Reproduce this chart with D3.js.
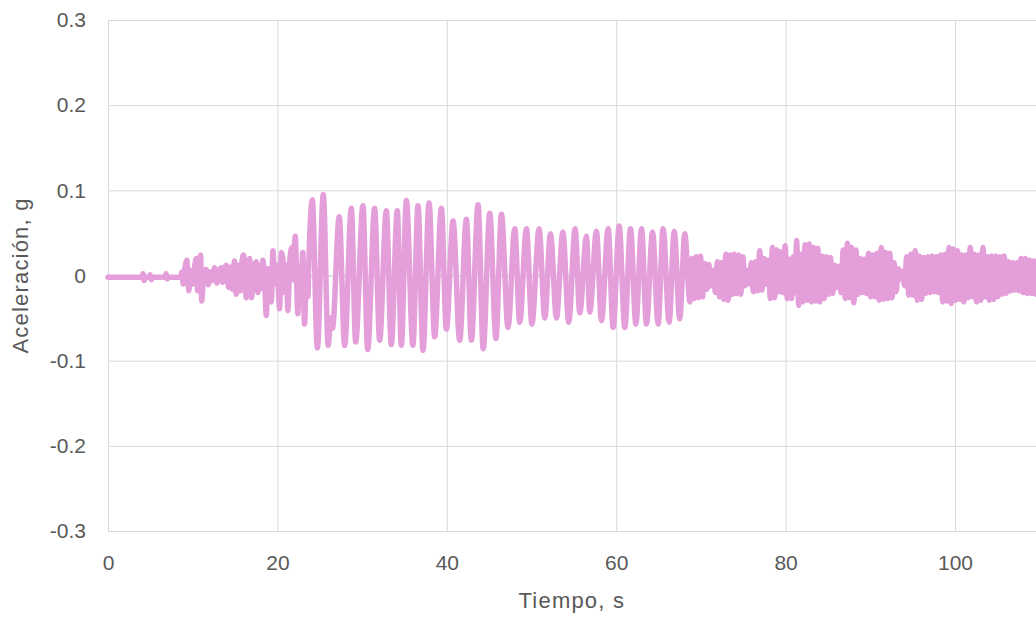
<!DOCTYPE html>
<html><head><meta charset="utf-8">
<script src="https://cdn.jsdelivr.net/npm/d3@7"></script>
<style>body{margin:0;background:#fff}svg{display:block}</style>
</head><body>
<svg id="chart" width="1036" height="617"></svg>
<script>
// ---- data ----
const xTicks = [0, 20, 40, 60, 80, 100];
const yTicks = [-0.3, -0.2, -0.1, 0, 0.1, 0.2, 0.3];
const yTickLabels = ["-0.3", "-0.2", "-0.1", "0", "0.1", "0.2", "0.3"];
const xTitle = "Tiempo, s";
const yTitle = "Aceleración, g";

// [time (s), acceleration (g)] turning points of the record
const preEvent = [[0,-0.002],[4.0,-0.002],[4.12,0.002],[4.27,-0.006],[4.42,-0.002],[4.85,-0.002],[4.98,0.001],[5.12,-0.005],[5.27,-0.002],[6.72,-0.002],[6.86,0.002],[7.0,-0.004],[7.15,-0.002],[8.6,-0.002]];

const onset = [[8.72,0.004],[8.88,-0.010],[9.08,0.008],[9.31,0.018],[9.55,-0.018],[9.78,0.006],[9.98,-0.010],[10.2,0.008],[10.42,0.020],[10.58,-0.018],[10.76,0.012],[10.93,0.024],[11.06,-0.030],[11.3,0.004],[11.6,0.007],[11.82,-0.011],[12.05,0.004],[12.3,-0.006],[12.58,0.009],[12.86,-0.009],[13.1,0.004],[13.37,0.009],[13.52,-0.008],[13.75,0.006],[13.96,0.012],[14.24,-0.014],[14.5,0.010],[14.7,-0.016],[14.94,0.017],[15.14,-0.022],[15.4,0.012],[15.6,-0.018],[15.8,0.014],[16.0,0.024],[16.32,-0.026],[16.5,0.012],[16.72,0.020],[16.95,-0.026],[17.2,0.010],[17.5,0.016],[17.7,-0.020],[17.95,0.012],[18.1,-0.015],[18.29,0.018],[18.5,-0.010],[18.69,-0.047],[18.9,0.008],[19.1,-0.012],[19.28,-0.031],[19.47,0.029],[19.7,-0.010],[19.9,0.012],[20.1,-0.015],[20.26,-0.039],[20.46,0.027],[20.65,0.020],[20.85,-0.020],[21.05,0.012],[21.24,-0.041],[21.45,0.015],[21.7,0.033],[21.85,-0.005],[22.1,0.046],[22.42,-0.045],[22.6,0.010],[22.8,-0.015],[23.0,0.027],[23.2,-0.057],[23.45,0.010],[23.6,-0.025],[23.72,0.018]];

const strongMotion = [[24.12,0.089],[24.72,-0.085],[25.42,0.095],[26.0,-0.082],[26.3,-0.050],[26.5,-0.062],[27.3,0.069],[27.94,-0.082],[28.73,0.079],[29.24,-0.078],[30.1,0.082],[30.66,-0.087],[31.48,0.079],[32.07,-0.076],[32.86,0.076],[33.45,-0.081],[34.15,0.076],[34.63,-0.082],[35.23,0.088],[36.0,-0.082],[36.6,0.082],[37.19,-0.088],[37.9,0.085],[38.57,-0.072],[39.36,0.079],[39.95,-0.063],[40.74,0.064],[41.52,-0.076],[42.31,0.066],[42.9,-0.076],[43.69,0.083],[44.3,-0.086],[45.07,0.073],[45.8,-0.074],[46.45,0.072],[47.23,-0.061],[48.02,0.055],[48.61,-0.055],[49.4,0.055],[50.05,-0.057],[50.9,0.055],[51.57,-0.050],[52.24,0.049],[52.95,-0.050],[53.7,0.051],[54.4,-0.055],[55.15,0.055],[55.7,-0.044],[56.49,0.046],[56.88,-0.043],[57.67,0.052],[58.26,-0.053],[59.05,0.055],[59.64,-0.061],[60.35,0.058],[61.02,-0.061],[61.69,0.055],[62.32,-0.057],[62.99,0.055],[63.58,-0.057],[64.29,0.051],[64.95,-0.057],[65.54,0.055],[66.25,-0.055],[66.85,0.052],[67.5,-0.051],[68.1,0.049],[68.7,-0.031]];

const coda = [[68.95,0.020],[69.2,-0.027],[69.45,0.022],[69.7,-0.026],[69.95,0.023],[70.2,-0.025],[70.45,0.014],[70.7,-0.016],[70.95,0.013],[71.2,-0.012],[71.45,0.006],[71.7,-0.020],[71.95,0.016],[72.2,-0.025],[72.45,0.015],[72.7,-0.028],[72.95,0.025],[73.2,-0.029],[73.45,0.024],[73.7,-0.022],[73.95,0.025],[74.2,-0.021],[74.45,0.024],[74.7,-0.022],[74.95,0.022],[75.2,-0.012],[75.45,0.006],[75.7,-0.010],[75.95,0.015],[76.2,-0.019],[76.45,0.016],[76.7,-0.018],[76.95,0.029],[77.2,-0.017],[77.45,0.020],[77.7,-0.010],[77.95,0.018],[78.2,-0.027],[78.45,0.033],[78.7,-0.026],[78.95,0.030],[79.2,-0.019],[79.45,0.028],[79.7,-0.020],[79.95,0.035],[80.2,-0.027],[80.45,0.019],[80.7,-0.027],[80.92,0.022],[81.12,-0.020],[81.3,0.041],[81.55,-0.035],[81.8,0.025],[82.05,-0.031],[82.3,0.036],[82.55,-0.029],[82.8,0.037],[83.05,-0.031],[83.3,0.033],[83.55,-0.030],[83.8,0.032],[84.05,-0.031],[84.3,0.023],[84.55,-0.027],[84.8,0.022],[85.05,-0.022],[85.3,0.021],[85.55,-0.021],[85.8,0.012],[86.05,-0.014],[86.3,0.011],[86.55,-0.020],[86.8,0.030],[87.05,-0.027],[87.3,0.038],[87.55,-0.026],[87.8,0.033],[88.05,-0.032],[88.3,0.030],[88.55,-0.022],[88.8,0.020],[89.05,-0.020],[89.3,0.019],[89.55,-0.021],[89.8,0.026],[90.05,-0.025],[90.3,0.024],[90.55,-0.025],[90.8,0.026],[91.05,-0.029],[91.3,0.033],[91.55,-0.028],[91.8,0.027],[92.05,-0.027],[92.3,0.026],[92.55,-0.026],[92.8,0.015],[93.05,-0.019],[93.3,0.008],[93.55,-0.004],[93.8,0.005],[94.05,-0.012],[94.3,0.022],[94.55,-0.023],[94.8,0.025],[95.05,-0.023],[95.3,0.029],[95.55,-0.029],[95.8,0.023],[96.05,-0.028],[96.3,0.021],[96.55,-0.021],[96.8,0.022],[97.05,-0.020],[97.3,0.023],[97.55,-0.019],[97.8,0.022],[98.05,-0.020],[98.3,0.024],[98.55,-0.031],[98.8,0.025],[99.05,-0.030],[99.3,0.033],[99.55,-0.033],[99.8,0.031],[100.05,-0.029],[100.3,0.029],[100.55,-0.028],[100.8,0.024],[101.05,-0.031],[101.3,0.024],[101.55,-0.026],[101.8,0.033],[102.05,-0.025],[102.3,0.025],[102.55,-0.031],[102.8,0.024],[103.05,-0.029],[103.3,0.033],[103.55,-0.025],[103.8,0.022],[104.05,-0.029],[104.3,0.023],[104.55,-0.028],[104.8,0.023],[105.05,-0.025],[105.3,0.022],[105.55,-0.022],[105.8,0.023],[106.05,-0.021],[106.3,0.016],[106.55,-0.018],[106.8,0.015],[107.05,-0.017],[107.3,0.015],[107.55,-0.018],[107.8,0.020],[108.05,-0.020],[108.3,0.020],[108.55,-0.021],[108.8,0.018],[109.05,-0.021],[109.3,0.017],[109.55,-0.022],[109.8,0.018],[110.05,-0.020],[110.3,0.018]];

const series = preEvent.concat(onset, strongMotion, coda);

// ---- drawing ----
const W = 1036, H = 617;
const FONT = "'Liberation Sans', Arial, sans-serif";
const svg = d3.select("#chart");
const x = d3.scaleLinear().domain([0, 110]).range([108, 1039.7]);
const y = d3.scaleLinear().domain([-0.3, 0.3]).range([531, 20]);

// horizontal gridlines + y tick labels
const yAxis = svg.append("g").attr("transform", `translate(${x(0)},0)`)
  .call(d3.axisLeft(y).tickValues(yTicks)
    .tickFormat((d, i) => yTickLabels[i])
    .tickSize(-(W - x(0))).tickPadding(22));
yAxis.select(".domain").remove();
yAxis.selectAll(".tick line").attr("stroke", d => d === 0 ? "#bfbfbf" : "#d9d9d9");
yAxis.selectAll(".tick text").attr("fill", "#595959")
  .style("font-family", FONT).style("font-size", "21px");

// vertical gridlines + x tick labels
const xAxis = svg.append("g").attr("transform", `translate(0,${y(-0.3)})`)
  .call(d3.axisBottom(x).tickValues(xTicks)
    .tickSize(-(y(-0.3) - y(0.3))).tickPadding(24));
xAxis.select(".domain").remove();
xAxis.selectAll(".tick line").attr("stroke", "#d9d9d9");
xAxis.selectAll(".tick text").attr("fill", "#595959")
  .style("font-family", FONT).style("font-size", "21px");

// acceleration record
svg.append("path")
  .datum(series)
  .attr("fill", "none")
  .attr("stroke", "#e49fdb")
  .attr("stroke-width", 5.5)
  .attr("stroke-linejoin", "round")
  .attr("stroke-linecap", "round")
  .attr("d", d3.line().x(d => x(d[0])).y(d => y(d[1])).curve(d3.curveMonotoneX));

// axis titles
svg.append("text")
  .attr("x", (x(0) + x(110)) / 2 - 2).attr("y", 608)
  .attr("text-anchor", "middle").attr("fill", "#595959")
  .style("font-family", FONT).style("font-size", "22px")
  .style("letter-spacing", "1.2px")
  .text(xTitle);

svg.append("text")
  .attr("transform", `translate(20,${y(0)}) rotate(-90)`)
  .attr("dy", "0.35em")
  .attr("text-anchor", "middle").attr("fill", "#595959")
  .style("font-family", FONT).style("font-size", "22px")
  .style("letter-spacing", "1.2px")
  .text(yTitle);
</script>
</body></html>
